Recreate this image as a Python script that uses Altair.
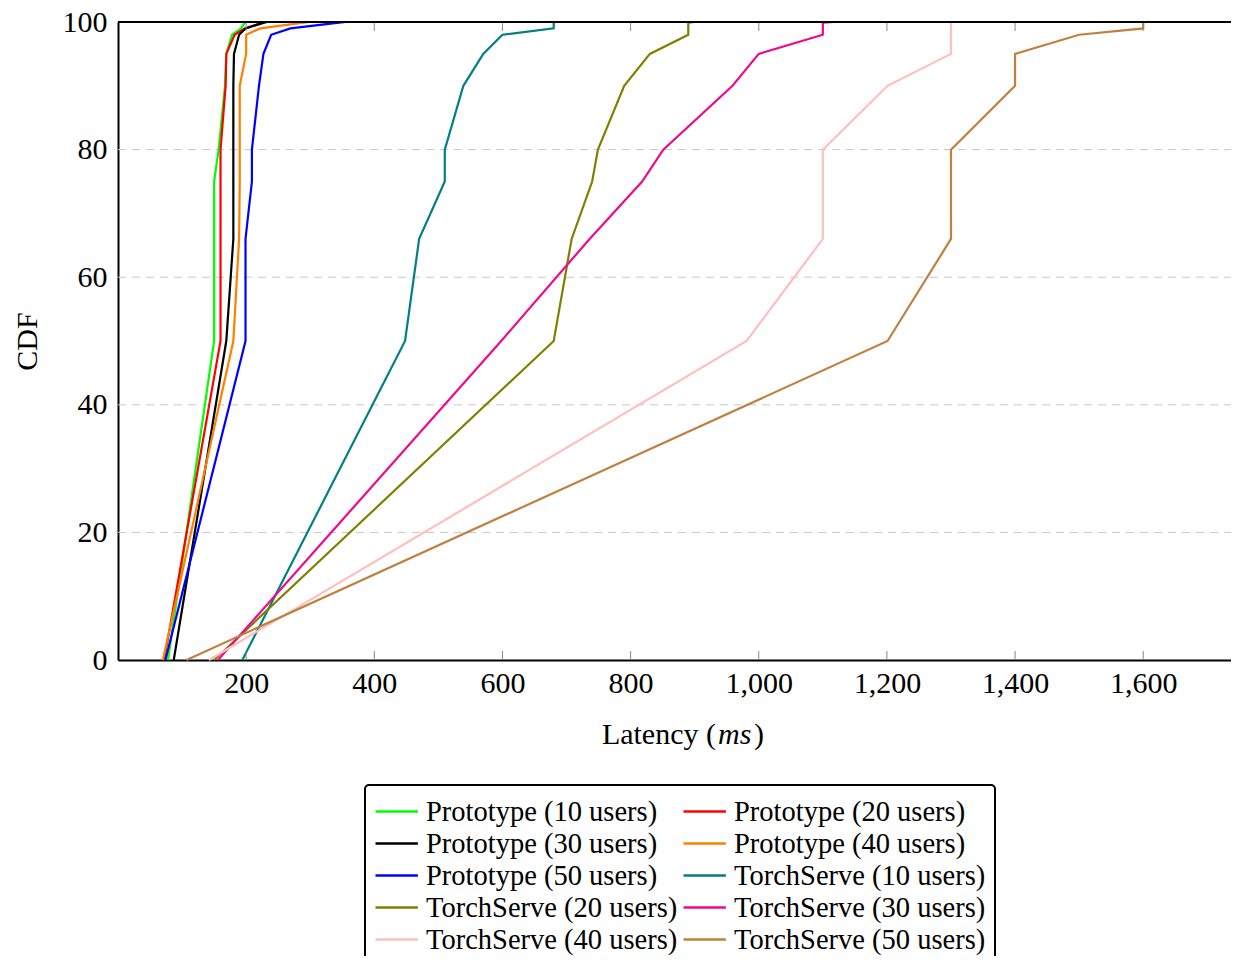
import altair as alt
import pandas as pd

FONT = "Liberation Serif"

PERCENTILES = [0, 50, 66, 75, 80, 90, 95, 98, 99, 99.9, 100]

SERIES = [
    "Prototype (10 users)", "Prototype (20 users)",
    "Prototype (30 users)", "Prototype (40 users)",
    "Prototype (50 users)", "TorchServe (10 users)",
    "TorchServe (20 users)", "TorchServe (30 users)",
    "TorchServe (40 users)", "TorchServe (50 users)",
]
COLORS = ["#00ff00", "#ff0000", "#000000", "#ff8000", "#0000ff",
          "#008080", "#808000", "#ee0a8c", "#ffbfbf", "#bf8040"]

proto_10 = [78, 150, 150, 150, 157, 167, 169, 178, 192, 198, 200]
proto_20 = [72, 160, 160, 160, 160, 168, 169, 182, 198, 225, 230]
proto_30 = [87, 169, 180, 180, 180, 180, 181, 189, 199, 228, 233]
proto_40 = [70, 180, 189, 190, 190, 190, 200, 200, 222, 290, 298]
proto_50 = [74, 199, 199, 209, 209, 220, 227, 239, 269, 345, 355]
ts_10 = [194, 448, 470, 510, 510, 539, 570, 600, 680, 680, 680]
ts_20 = [150, 680, 708, 740, 749, 790, 830, 890, 890, 890, 900]
ts_30 = [156, 598, 736, 818, 851, 959, 1000, 1100, 1100, 1100, 1118]
ts_40 = [142, 981, 1100, 1100, 1100, 1201, 1300, 1300, 1300, 1300, 1300]
ts_50 = [107, 1201, 1300, 1300, 1300, 1400, 1400, 1500, 1600, 1600, 1600]

VALUES = [proto_10, proto_20, proto_30, proto_40, proto_50,
          ts_10, ts_20, ts_30, ts_40, ts_50]

X_TICKS = [200, 400, 600, 800, 1000, 1200, 1400, 1600]
Y_TICKS = [0, 20, 40, 60, 80, 100]
GRID_LEVELS = [20, 40, 60, 80]

W, H = 1113, 638

rows = []
for name, vals in zip(SERIES, VALUES):
    for i, (p, v) in enumerate(zip(PERCENTILES, vals)):
        rows.append({"series": name, "latency": v, "cdf": p, "idx": i})
df = pd.DataFrame(rows)

xscale = alt.Scale(domain=[0, 1737], nice=False, zero=False)
yscale = alt.Scale(domain=[0, 100], nice=False)

x_axis = alt.Axis(values=X_TICKS, format=",d", title=None, grid=False,
                  tickSize=0, labelPadding=8, domain=True,
                  domainColor="black", domainWidth=2,
                  labelFontSize=30, labelFont=FONT, labelColor="black",
                  labelOverlap=False, labelFlush=False)
y_axis = alt.Axis(values=Y_TICKS, title="CDF", grid=False,
                  tickSize=0, labelPadding=11, domain=True,
                  domainColor="black", domainWidth=2,
                  labelFontSize=30, labelFont=FONT, labelColor="black",
                  labelOverlap=False,
                  titleX=-91, titleY=319, titleAngle=270,
                  titleAlign="center", titleBaseline="middle",
                  titleFont=FONT, titleFontSize=30,
                  titleFontWeight="normal", titleColor="black")

grid = alt.Chart(pd.DataFrame({"cdf": GRID_LEVELS})).mark_rule(
    color="#c8c8c8", strokeWidth=1, strokeDash=[8, 6]
).encode(
    y=alt.Y("cdf:Q", scale=yscale, axis=y_axis),
    x=alt.value(0), x2=alt.value(W),
)

lines = alt.Chart(df).mark_line(strokeWidth=2.2).encode(
    x=alt.X("latency:Q", scale=xscale, axis=x_axis),
    y=alt.Y("cdf:Q", scale=yscale, axis=y_axis),
    color=alt.Color("series:N", scale=alt.Scale(domain=SERIES, range=COLORS),
                    legend=alt.Legend(title=None, orient="none", legendX=247,
                                      legendY=763, columns=2,
                                      direction="horizontal",
                                      symbolType="M-1,0H1.65", symbolSize=1024,
                                      symbolStrokeWidth=2.5,
                                      symbolFillColor="transparent",
                                      labelFont=FONT, labelFontSize=28.5,
                                      labelColor="black", labelLimit=0,
                                      labelOffset=17, columnPadding=0,
                                      rowPadding=0, padding=9,
                                      strokeColor="black", fillColor="white",
                                      cornerRadius=4)),
    order=alt.Order("idx:Q"),
)

tick_df = pd.DataFrame({"latency": X_TICKS})
bottom_ticks = alt.Chart(tick_df).mark_rule(color="#888888", strokeWidth=1).encode(
    x=alt.X("latency:Q", scale=xscale, axis=x_axis),
    y=alt.value(H - 1), y2=alt.value(H - 9),
)
top_ticks = alt.Chart(tick_df).mark_rule(color="#888888", strokeWidth=1).encode(
    x=alt.X("latency:Q", scale=xscale, axis=x_axis),
    y=alt.value(1), y2=alt.value(9),
)
top_frame = alt.Chart(pd.DataFrame({"f": [0]})).mark_rule(
    color="black", strokeWidth=2
).encode(x=alt.value(0), x2=alt.value(W), y=alt.value(0))

t1 = alt.Chart(pd.DataFrame({"t": ["Latency ("]})).mark_text(
    font=FONT, fontSize=30, align="right", baseline="middle", color="black"
).encode(x=alt.value(598), y=alt.value(713), text="t:N")
t2 = alt.Chart(pd.DataFrame({"t": ["ms"]})).mark_text(
    font=FONT, fontSize=30, fontStyle="italic", align="left", baseline="middle", color="black"
).encode(x=alt.value(600), y=alt.value(713), text="t:N")
t3 = alt.Chart(pd.DataFrame({"t": [")"]})).mark_text(
    font=FONT, fontSize=30, align="left", baseline="middle", color="black"
).encode(x=alt.value(636), y=alt.value(713), text="t:N")

chart = alt.layer(grid, lines, bottom_ticks, top_ticks, top_frame, t1, t2, t3).properties(
    width=W, height=H,
    padding={"left": 110, "top": 14, "right": 0, "bottom": 296},
    autosize=alt.AutoSizeParams(type="none"),
    background="white",
).configure_view(stroke=None).configure_legend(strokeWidth=2)

chart.save("out.html", embed_options={"renderer": "svg", "actions": False})
